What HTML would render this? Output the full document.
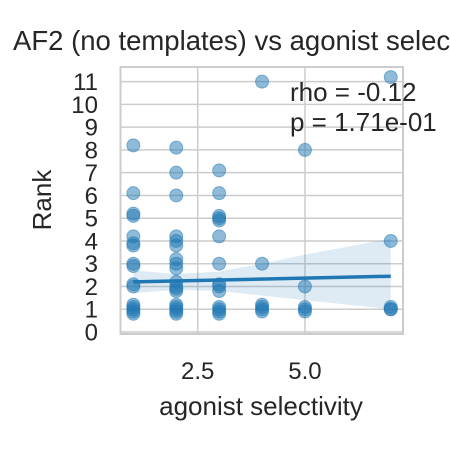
<!DOCTYPE html>
<html><head><meta charset="utf-8"><style>
body{margin:0;background:#fff;overflow:hidden}
svg text{font-family:"Liberation Sans",Arial,sans-serif;fill:#262626}
</style></head><body>
<svg width="450" height="450" xmlns="http://www.w3.org/2000/svg">
<text x="13" y="50" font-size="27.5">AF2 (no templates) vs agonist selectivity</text>
<g id="grid"></g>
<g id="band"></g>
<g id="pts"></g>
<g id="fit"></g>
<rect x="120.5" y="67" width="282.5" height="267" fill="none" stroke="#cccccc" stroke-width="2"/>
<g id="ticks"></g>
<text x="290" y="101" font-size="26">rho = -0.12</text>
<text x="290" y="131" font-size="26">p = 1.71e-01</text>
<text x="261" y="415" font-size="26" text-anchor="middle">agonist selectivity</text>
<text transform="translate(51,200) rotate(-90)" font-size="26" text-anchor="middle">Rank</text>
</svg>
<script>
const xVals=[1,1,1,1,1,1,1,1,1,1,1,1,1,1,1,1, 2,2,2,2,2,2,2,2,2,2,2,2,2,2,2,2,2,2, 3,3,3,3,3,3,3,3,3,3,3,3,3,3, 4,4,4,4,4,4, 5,5,5,5,5, 7,7,7,7,7];
const yVals=[8.2,6.1,5.2,5.1,4.2,3.9,3.8,3,2.9,2.1,2,1.2,1.1,1,0.9,0.8, 8.1,7,6,4.2,4,3.8,3.2,3,2.8,2.2,2,1.9,1.8,1.2,1.1,1,0.9,0.8, 7.1,6.1,5.1,5,4.9,4.2,3,2.1,2,1.8,1.1,1,0.9,0.8, 11,3,1.2,1.1,1,0.9, 8,2,1.1,1,0.9, 11.2,4,1.1,1,1];
const fitX=[1,7];
const fitY=[2.2,2.45];
const bandX=[1,2,3,4,5,6,7];
const bandLo=[1.7,1.85,1.8,1.6,1.4,1.2,1.0];
const bandHi=[2.7,2.55,2.65,3.0,3.4,3.75,4.1];
const yTicks=[0,1,2,3,4,5,6,7,8,9,10,11];
const xTicks=[2.5,5.0];
const xTickLabels=["2.5","5.0"];
const sx=v=>197.7+(v-2.5)*42.9;
const sy=v=>332-v*22.76;
const NS="http://www.w3.org/2000/svg";
function mk(tag,attrs,parent){const e=document.createElementNS(NS,tag);for(const k in attrs)e.setAttribute(k,attrs[k]);parent.appendChild(e);return e;}
const grid=document.getElementById('grid'),ticks=document.getElementById('ticks');
yTicks.forEach(t=>{
 const l=mk('line',{x1:120.5,x2:403,y1:sy(t),y2:sy(t),stroke:'#cccccc','stroke-width':1.5},grid);
 
 
 const tx=mk('text',{x:98,y:sy(t)+8.5,'font-size':24,'text-anchor':'end'},ticks);
 tx.textContent=t;
 
 
});
xTicks.forEach((t,i)=>{
 const l=mk('line',{x1:sx(t),x2:sx(t),y1:67,y2:334,stroke:'#cccccc','stroke-width':1.5},grid);
 
 
 const tx=mk('text',{x:sx(t),y:379,'font-size':24,'text-anchor':'middle'},ticks);
 tx.textContent=xTickLabels[i];
 
 
});
let d='M'+bandX.map((x,i)=>sx(x)+','+sy(bandHi[i])).join(' L')+' L'+bandX.map((x,i)=>sx(x)+','+sy(bandLo[i])).reverse().join(' L')+' Z';
const b=mk('path',{d:d,fill:'#1f77b4','fill-opacity':0.15},document.getElementById('band'));


const pts=document.getElementById('pts');
xVals.forEach((x,i)=>{
 const c=mk('circle',{cx:sx(x),cy:sy(yVals[i]),r:6.5,fill:'#1f77b4','fill-opacity':0.5,stroke:'#1f77b4','stroke-opacity':0.5,'stroke-width':1},pts);
 
 
});
const fl=mk('line',{x1:sx(fitX[0]),y1:sy(fitY[0]),x2:sx(fitX[1]),y2:sy(fitY[1]),stroke:'#1f77b4','stroke-width':3.5},document.getElementById('fit'));


</script>
</body></html>
